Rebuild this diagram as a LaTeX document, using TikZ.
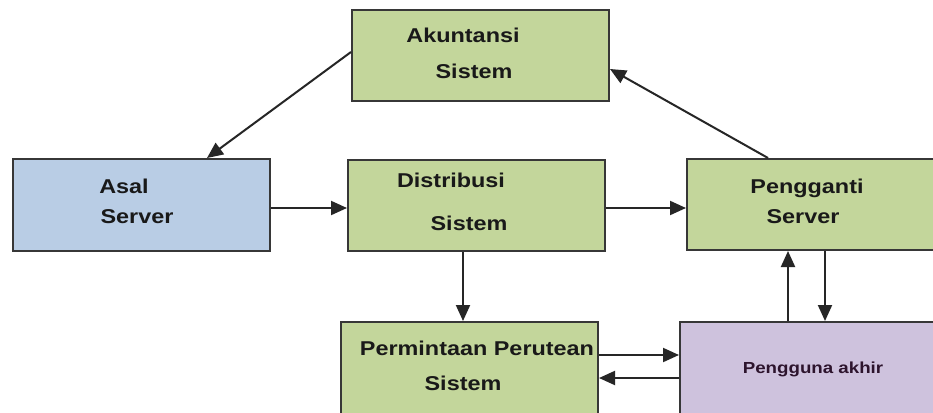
\documentclass[tikz,border=0pt]{standalone}
\usepackage{fontspec}
\newfontfamily\labfont{Liberation Sans}[FakeStretch=1.17]
\usetikzlibrary{arrows.meta}
\definecolor{boxgreen}{RGB}{195,214,155}
\definecolor{boxblue}{RGB}{185,205,229}
\definecolor{boxpurple}{RGB}{206,194,221}
\definecolor{edgegray}{RGB}{55,55,55}
\definecolor{txt}{RGB}{25,25,25}
\tikzset{
  box/.style={draw=edgegray, line width=2pt, rectangle, inner sep=0pt},
  greenbox/.style={box, fill=boxgreen},
  bluebox/.style={box, fill=boxblue},
  purplebox/.style={box, fill=boxpurple},
  lab/.style={anchor=base, inner sep=0pt, text=txt, font=\labfont\bfseries\fontsize{20}{22}\selectfont},
  smalllab/.style={anchor=base, inner sep=0pt, text=txt!80!violet, font=\labfont\bfseries\fontsize{16}{19}\selectfont},
  conn/.style={draw=black!85, line width=2pt, -{Triangle[length=16pt,width=14pt]}}
}
\begin{document}
\begin{tikzpicture}[x=1pt,y=-1pt]
\clip (0,0) rectangle (933,412);
\fill[white] (0,0) rectangle (933,412);
% boxes
\node[greenbox, minimum width=257pt, minimum height=91pt] (akun) at (480.5,55.5) {};
\node[bluebox, minimum width=257pt, minimum height=92pt] (asal) at (141.5,205) {};
\node[greenbox, minimum width=257pt, minimum height=91pt] (dist) at (476.5,205.5) {};
\node[greenbox, minimum width=253pt, minimum height=91pt] (peng) at (813.5,204.5) {};
\node[greenbox, minimum width=257pt, minimum height=98pt] (perm) at (469.5,371) {};
\node[purplebox, minimum width=260pt, minimum height=98pt] (user) at (810,371) {};
% labels
\node[lab] (t1) at (463,42) {Akuntansi};
\node[lab] (t2) at (474,78) {Sistem};
\node[lab] (t3) at (124,193) {Asal};
\node[lab] (t4) at (137,223) {Server};
\node[lab] (t5) at (451,187) {Distribusi};
\node[lab] (t6) at (469,230) {Sistem};
\node[lab] (t7) at (807,193) {Pengganti};
\node[lab] (t8) at (803,223) {Server};
\node[lab] (t9) at (477,355) {Permintaan Perutean};
\node[lab] (t10) at (463,390) {Sistem};
\node[smalllab] (t11) at (813,373) {Pengguna akhir};
% connectors
\draw[conn] ([yshift=3.5pt]akun.west) -- ([xshift=65.5pt]asal.north);
\draw[conn] ([xshift=-45.5pt]peng.north) -- ([yshift=-13.5pt]akun.east);
\draw[conn] ([yshift=-3pt]asal.east) -- ([yshift=-2.5pt]dist.west);
\draw[conn] ([yshift=-2.5pt]dist.east) -- ([yshift=-3.5pt]peng.west);
\draw[conn] ([xshift=-13.5pt]dist.south) -- ([xshift=-6.5pt]perm.north);
\draw[conn] ([xshift=-22pt]user.north) -- ([xshift=-25.5pt]peng.south);
\draw[conn] ([xshift=11.5pt]peng.south) -- ([xshift=15pt]user.north);
\draw[conn] ([yshift=16pt]perm.east) -- ([yshift=16pt]user.west);
\draw[conn] ([yshift=-7pt]user.west) -- ([yshift=-7pt]perm.east);
\end{tikzpicture}
\end{document}
